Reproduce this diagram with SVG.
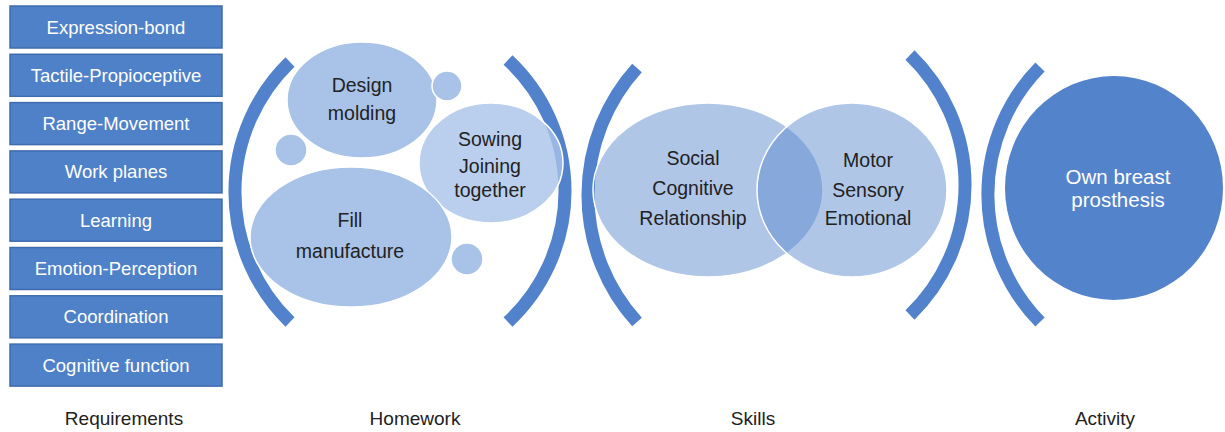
<svg xmlns="http://www.w3.org/2000/svg" width="1225" height="432" viewBox="0 0 1225 432">
<style>
.box{fill:#4f81c9;stroke:#3e6cae;stroke-width:1.5}
.bt{fill:#ffffff;font-family:"Liberation Sans",Arial,sans-serif;font-size:18.5px;text-anchor:middle}
.br{fill:none;stroke:#5282cb;stroke-width:13}
.lt{fill:#a9c3e8;stroke:#ffffff;stroke-width:1.5}
.sk{fill:#5a88cc;fill-opacity:0.48;stroke:#ffffff;stroke-width:1.5}
.dt{fill:#222222;font-family:"Liberation Sans",Arial,sans-serif;font-size:19.5px;text-anchor:middle}
.lab{fill:#222222;font-family:"Liberation Sans",Arial,sans-serif;font-size:19px;text-anchor:middle}
.wt{fill:#ffffff;font-family:"Liberation Sans",Arial,sans-serif;font-size:20.5px;text-anchor:middle}
</style>
<rect width="1225" height="432" fill="#ffffff"/>
<g id="requirements">
<g id="req-1"><rect class="box" x="10" y="6" width="212" height="42"/><text class="bt" x="116" y="33.5">Expression-bond</text></g>
<g id="req-2"><rect class="box" x="10" y="54.3" width="212" height="42"/><text class="bt" x="116" y="81.8">Tactile-Propioceptive</text></g>
<g id="req-3"><rect class="box" x="10" y="102.6" width="212" height="42"/><text class="bt" x="116" y="130.1">Range-Movement</text></g>
<g id="req-4"><rect class="box" x="10" y="150.9" width="212" height="42"/><text class="bt" x="116" y="178.4">Work planes</text></g>
<g id="req-5"><rect class="box" x="10" y="199.2" width="212" height="42"/><text class="bt" x="116" y="226.7">Learning</text></g>
<g id="req-6"><rect class="box" x="10" y="247.5" width="212" height="42"/><text class="bt" x="116" y="275">Emotion-Perception</text></g>
<g id="req-7"><rect class="box" x="10" y="295.8" width="212" height="42"/><text class="bt" x="116" y="323.3">Coordination</text></g>
<g id="req-8"><rect class="box" x="10" y="344.1" width="212" height="42"/><text class="bt" x="116" y="371.6">Cognitive function</text></g>
</g>
<g id="brackets">
<path class="br" d="M 290 62 A 181 181 0 0 0 290 322"/>
<path class="br" d="M 508 60 A 179 179 0 0 1 508 322"/>
<path class="br" d="M 637 68 A 189 189 0 0 0 637 322"/>
<path class="br" d="M 910 55 A 181 181 0 0 1 910 315"/>
<path class="br" d="M 1040 67 A 182 182 0 0 0 1040 322"/>
</g>
<g id="homework">
<g id="design"><ellipse class="lt" cx="362" cy="100" rx="75" ry="58"/><text class="dt" x="362" y="92">Design</text><text class="dt" x="362" y="120">molding</text></g>
<circle class="lt" cx="447" cy="86" r="15"/>
<circle class="lt" cx="291" cy="150" r="16"/>
<g id="sowing"><ellipse class="lt" cx="491" cy="163" rx="72" ry="60" fill-opacity="0.8"/><text class="dt" x="490" y="146">Sowing</text><text class="dt" x="490" y="173">Joining</text><text class="dt" x="490" y="197">together</text></g>
<g id="fill"><ellipse class="lt" cx="351" cy="237" rx="101" ry="70"/><text class="dt" x="350" y="227">Fill</text><text class="dt" x="350" y="258">manufacture</text></g>
<circle class="lt" cx="467" cy="259" r="16"/>
</g>
<g id="skills">
<ellipse class="sk" cx="708" cy="190" rx="115" ry="87"/>
<ellipse class="sk" cx="852" cy="190" rx="95" ry="87"/>
<text class="dt" x="693" y="165">Social</text><text class="dt" x="693" y="195">Cognitive</text><text class="dt" x="693" y="225">Relationship</text>
<text class="dt" x="868" y="167">Motor</text><text class="dt" x="868" y="197">Sensory</text><text class="dt" x="868" y="225">Emotional</text>
</g>
<g id="activity">
<ellipse cx="1114" cy="188" rx="109" ry="112" fill="#5383cb"/>
<text class="wt" x="1118" y="184">Own breast</text><text class="wt" x="1118" y="207">prosthesis</text>
</g>
<g id="labels">
<text class="lab" x="124" y="425">Requirements</text>
<text class="lab" x="415" y="425">Homework</text>
<text class="lab" x="753" y="425">Skills</text>
<text class="lab" x="1105" y="425">Activity</text>
</g>
</svg>
